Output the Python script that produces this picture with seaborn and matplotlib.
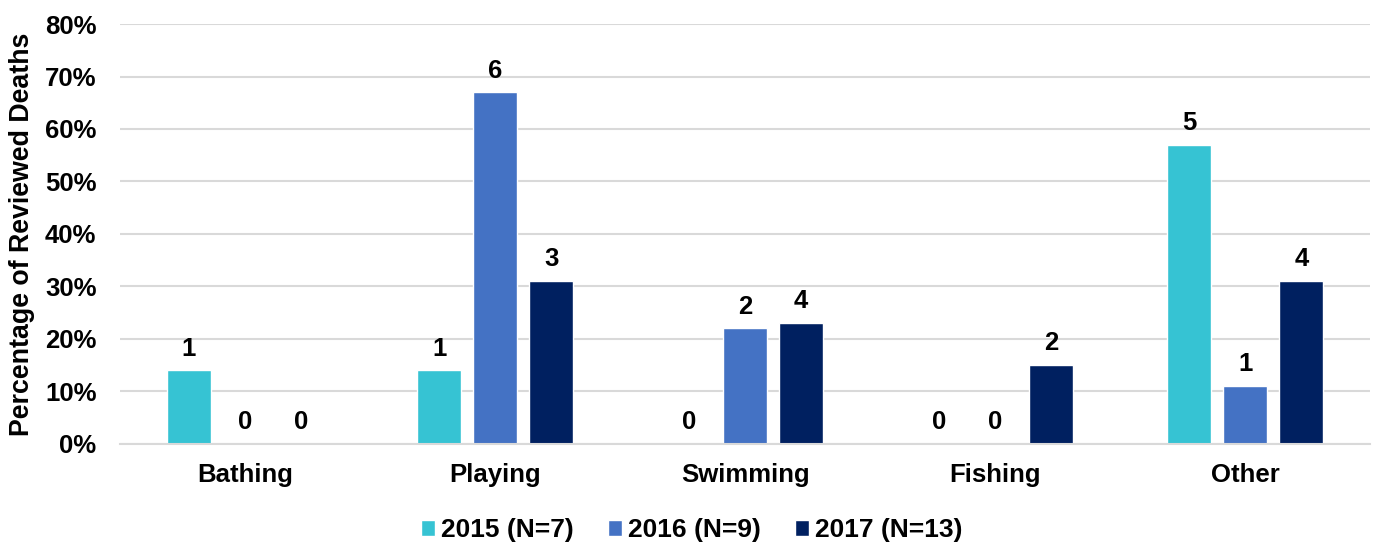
import matplotlib
matplotlib.use("Agg")
import matplotlib.pyplot as plt
import seaborn as sns
import pandas as pd
from matplotlib.ticker import PercentFormatter

categories = ["Bathing", "Playing", "Swimming", "Fishing", "Other"]
series = ["2015 (N=7)", "2016 (N=9)", "2017 (N=13)"]
pct_2015 = [14, 14, 0, 0, 57]
pct_2016 = [0, 67, 22, 0, 11]
pct_2017 = [0, 31, 23, 15, 31]
cnt_2015 = [1, 1, 0, 0, 5]
cnt_2016 = [0, 6, 2, 0, 1]
cnt_2017 = [0, 3, 4, 2, 4]
colors = ["#36C3D3", "#4472C4", "#002060"]

rows = []
for s, pv, cv in zip(series, [pct_2015, pct_2016, pct_2017], [cnt_2015, cnt_2016, cnt_2017]):
    for c, p, n in zip(categories, pv, cv):
        rows.append({"Activity": c, "Year": s, "Pct": p, "Count": n})
df = pd.DataFrame(rows)

sns.set_theme(style="white")
plt.rcParams["font.family"] = ["Liberation Sans", "DejaVu Sans"]
plt.rcParams["font.weight"] = "bold"
plt.rcParams["text.color"] = "black"
plt.rcParams["xtick.color"] = "black"
plt.rcParams["ytick.color"] = "black"
plt.rcParams["axes.labelcolor"] = "black"

fig = plt.figure(figsize=(13.83, 5.46), dpi=100)
ax = fig.add_axes([0.0868, 0.187, 0.904, 0.769])

sns.barplot(data=df, x="Activity", y="Pct", hue="Year", palette=colors,
            order=categories, hue_order=series, width=0.672, gap=0.214,
            saturation=1, ax=ax, legend=True)

# data labels
for cont, s in zip(ax.containers, series):
    counts = df[df["Year"] == s].set_index("Activity").loc[categories, "Count"].tolist()
    ax.bar_label(cont, labels=[str(n) for n in counts], padding=7,
                 fontsize=18.5, fontweight="bold", color="black")

ax.set_ylim(0, 80)
ax.set_xlim(-0.5, 4.5)
ax.set_yticks(range(0, 81, 10))
ax.yaxis.set_major_formatter(PercentFormatter(decimals=0))
ax.grid(axis="y", color="#d9d9d9", linewidth=1.5)
ax.set_axisbelow(True)
for sp in ["top", "right", "left"]:
    ax.spines[sp].set_visible(False)
ax.spines["bottom"].set_color("#d9d9d9")
ax.spines["bottom"].set_linewidth(1.5)
ax.tick_params(axis="y", length=0, labelsize=18.5, pad=17)
ax.tick_params(axis="x", length=0, labelsize=18.5, pad=14)
for t in ax.get_xticklabels() + ax.get_yticklabels():
    t.set_fontweight("bold")
ax.set_xlabel("")
ax.set_ylabel("Percentage of Reviewed Deaths", fontsize=19.3, fontweight="bold")
ax.yaxis.set_label_coords(-0.068, 0.5)

handles, labels = ax.get_legend_handles_labels()
ax.get_legend().remove()
fig.legend(handles, labels, loc="center", bbox_to_anchor=(0.5, 0.029), ncol=3, frameon=False,
           handlelength=0.55, handleheight=0.55, handletextpad=0.2,
           columnspacing=1.3, prop={"weight": "bold", "size": 19})

fig.savefig("out.png", dpi=100)
